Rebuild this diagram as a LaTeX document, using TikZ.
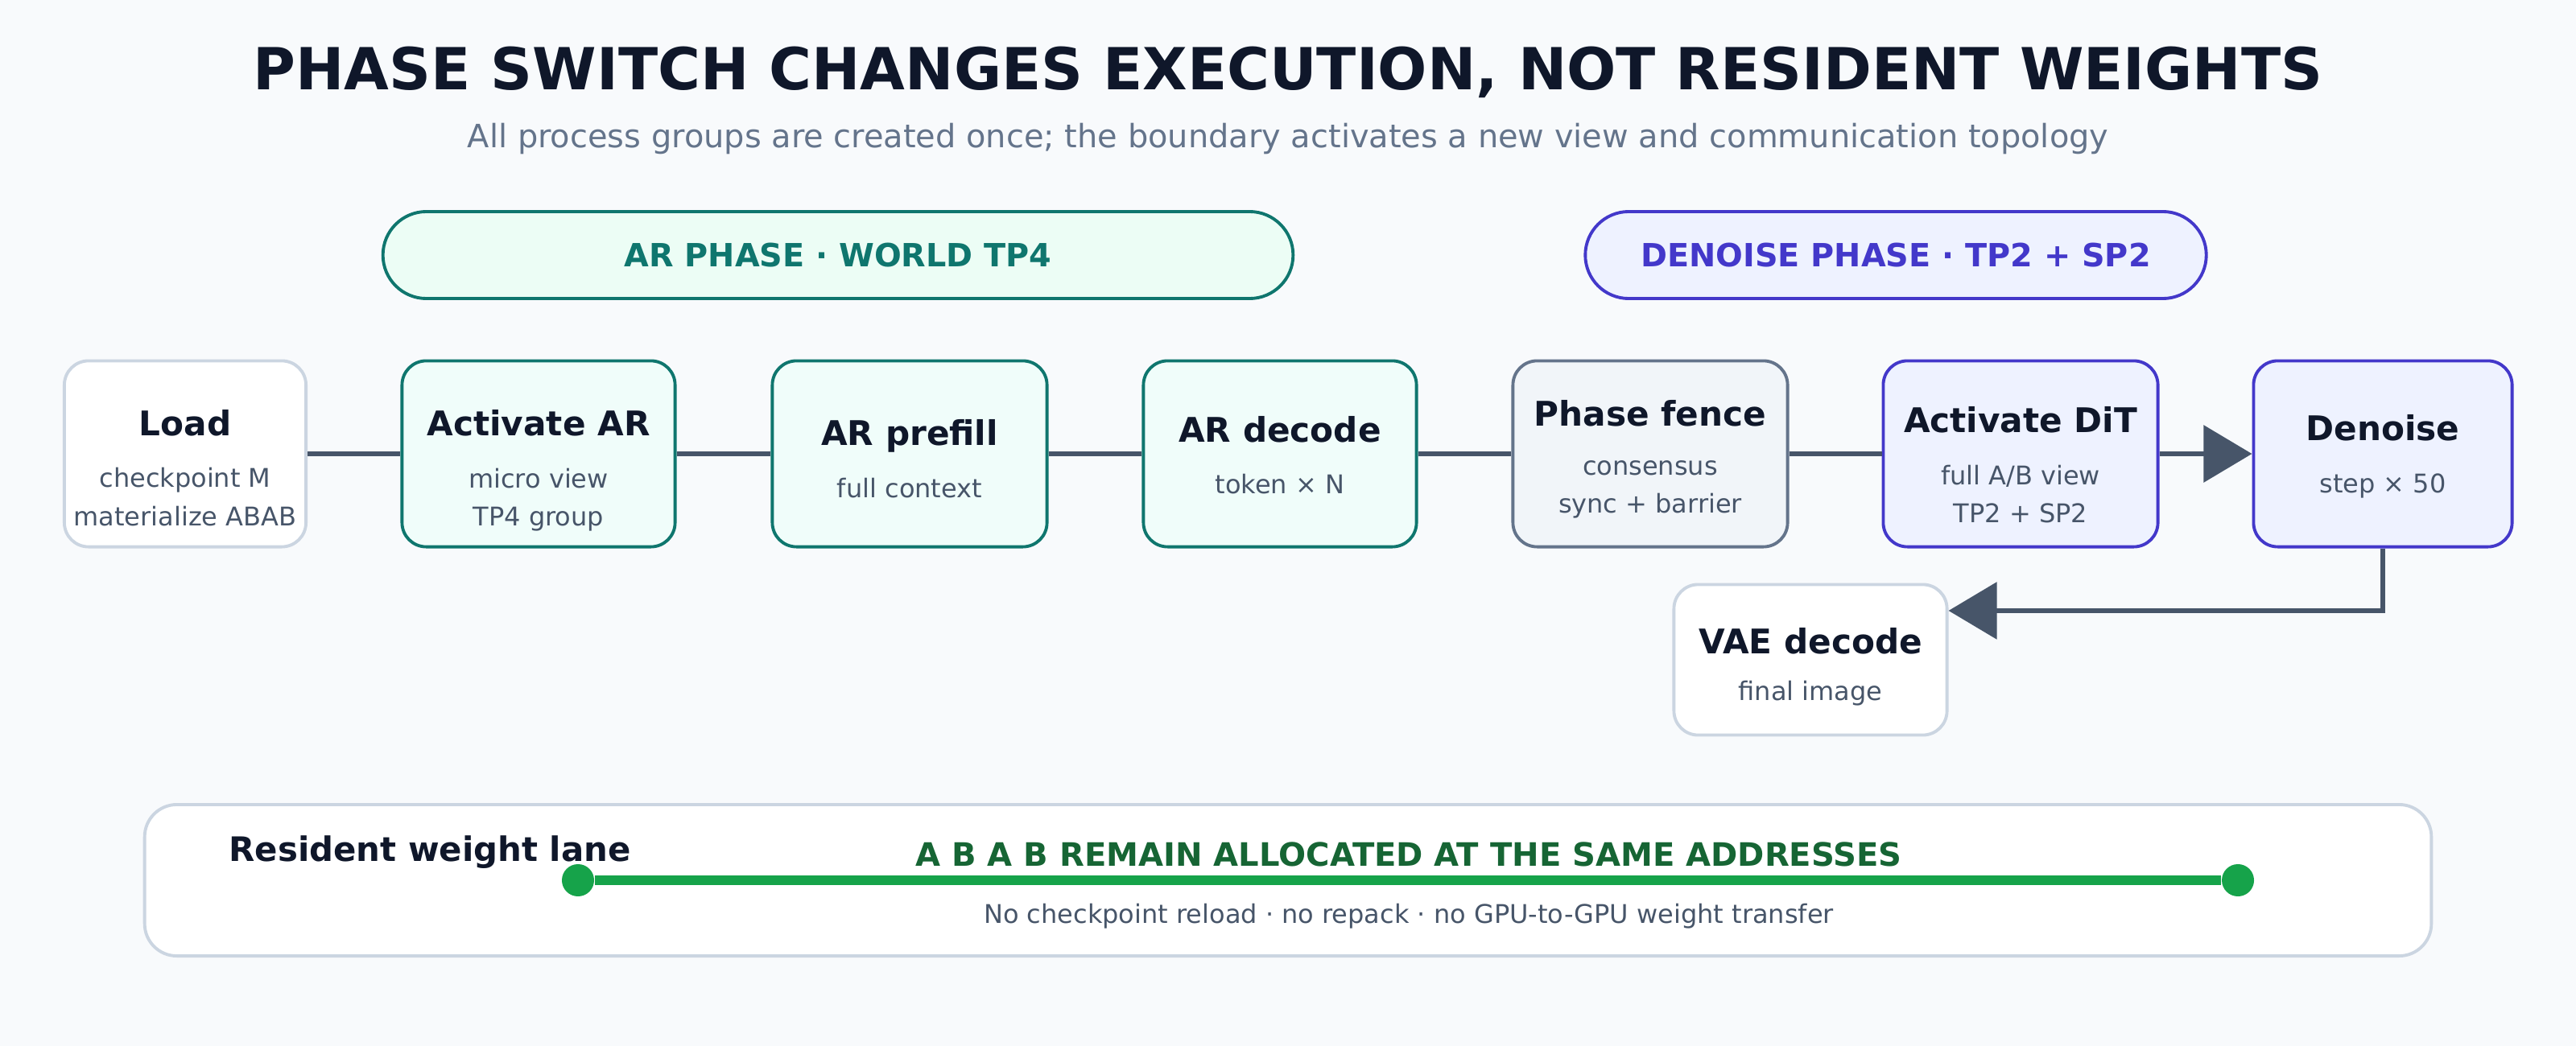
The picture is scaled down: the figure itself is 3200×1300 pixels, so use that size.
\documentclass[tikz,border=0pt]{standalone}
\usepackage{fontspec}
\setmainfont{DejaVu Sans}
\usetikzlibrary{arrows.meta}

\definecolor{bg}{HTML}{F8FAFC}
\definecolor{ink}{HTML}{0F172A}
\definecolor{muted}{HTML}{475569}
\definecolor{subtle}{HTML}{64748B}
\definecolor{edge}{HTML}{CBD5E1}
\definecolor{arline}{HTML}{0F766E}
\definecolor{arfill}{HTML}{F0FDFA}
\definecolor{arpillfill}{HTML}{ECFDF5}
\definecolor{ditline}{HTML}{4338CA}
\definecolor{ditfill}{HTML}{EEF2FF}
\definecolor{fencefill}{HTML}{F1F5F9}
\definecolor{lanegreen}{HTML}{16A34A}
\definecolor{keepgreen}{HTML}{166534}

% stage title; the optional value lowers the text block a little
\newcommand\ttl[2][0pt]{{\fontsize{12}{14}\selectfont\bfseries\color{ink}\rule{0pt}{\dimexpr 9pt+#1\relax}#2}}

\begin{document}
\begin{tikzpicture}[x=0.01cm,y=-0.01cm,
  stage/.style={draw,rounded corners=0.3cm,line width=1.1pt,minimum height=2.31cm,
    align=center,text=muted,font=\fontsize{9.1}{13.4}\selectfont,inner sep=0pt},
  plain/.style={stage,fill=white,draw=edge},
  arstage/.style={stage,fill=arfill,draw=arline},
  ditstage/.style={stage,fill=ditfill,draw=ditline},
  pill/.style={rounded corners=0.54cm,line width=1.1pt,minimum height=1.08cm,
    font=\fontsize{11.3}{13}\selectfont\bfseries},
  flow/.style={draw=muted,line width=1.7pt},
  tip/.style={flow,-{Triangle[length=0.6cm,width=0.7cm]}},
  dot/.style={circle,fill=lanegreen,minimum size=0.4cm,inner sep=0pt}]
\fill[bg] (0,0) rectangle (3200,1300);

% heading
\node[text=ink,font=\fontsize{20.5}{24}\selectfont\bfseries] (title) at (1600,90)
  {PHASE SWITCH CHANGES EXECUTION, NOT RESIDENT WEIGHTS};
\node[text=subtle,font=\fontsize{11.35}{13}\selectfont] (subtitle) at (1600,172)
  {All process groups are created once; the boundary activates a new view and communication topology};

% phase bands
\node[pill,fill=arpillfill,draw=arline,text=arline,minimum width=11.3cm] (arpill) at (1041,317)
  {AR PHASE · WORLD TP4};
\node[pill,fill=ditfill,draw=ditline,text=ditline,minimum width=7.71cm] (denpill) at (2355,317)
  {DENOISE PHASE · TP2 + SP2};

% stages
\node[plain,minimum width=3.0cm] (load) at (230,564) {\ttl[10pt]{Load}\\[5pt]checkpoint M\\materialize ABAB};
\node[arstage,minimum width=3.39cm] (actar) at (669,564) {\ttl[12pt]{Activate AR}\\[5pt]micro view\\TP4 group};
\node[arstage,minimum width=3.41cm] (prefill) at (1130,564) {\ttl[3.5pt]{AR prefill}\\[5pt]full context};
\node[arstage,minimum width=3.39cm] (decode) at (1590,564) {\ttl[1pt]{AR decode}\\[5pt]token × N};
\node[stage,fill=fencefill,draw=subtle,minimum width=3.41cm] (fence) at (2050,564)
  {\ttl[4pt]{Phase fence}\\[4pt]consensus\\sync + barrier};
\node[ditstage,minimum width=3.41cm] (actdit) at (2510,564) {\ttl[8pt]{Activate DiT}\\[5pt]full A/B view\\TP2 + SP2};
\node[ditstage,minimum width=3.21cm] (denoise) at (2960,564) {\ttl[2pt]{Denoise}\\[5pt]step × 50};
\node[plain,minimum width=3.39cm,minimum height=1.87cm] (vae) at (2249,820) {\ttl[5pt]{VAE decode}\\[3pt]final image};

\draw[flow] (load) -- (actar);
\draw[flow] (actar) -- (prefill);
\draw[flow] (prefill) -- (decode);
\draw[flow] (decode) -- (fence);
\draw[flow] (fence) -- (actdit);
\draw[tip] (actdit) -- (denoise);
\draw[tip] (denoise.south) |- ([yshift=0.61cm]vae.east);

% resident weights
\node[draw=edge,fill=white,line width=1.1pt,rounded corners=0.4cm,minimum width=28.39cm,
  minimum height=1.88cm] (lane) at (1600,1094) {};
\node[anchor=west,text=ink,font=\fontsize{11.9}{14}\selectfont\bfseries,inner sep=0pt] (lanetitle) at (284,1059)
  {Resident weight lane};
\node[text=keepgreen,font=\fontsize{11.4}{13}\selectfont\bfseries] (keep) at (1750,1062)
  {A B A B REMAIN ALLOCATED AT THE SAME ADDRESSES};
\node[dot] (wa) at (718,1094) {};
\node[dot] (wb) at (2780,1094) {};
\draw[lanegreen,line width=3.4pt] (wa) -- (wb);
\node[text=muted,font=\fontsize{9.1}{11}\selectfont] (note) at (1750,1139)
  {No checkpoint reload · no repack · no GPU-to-GPU weight transfer};
\end{tikzpicture}
\end{document}
